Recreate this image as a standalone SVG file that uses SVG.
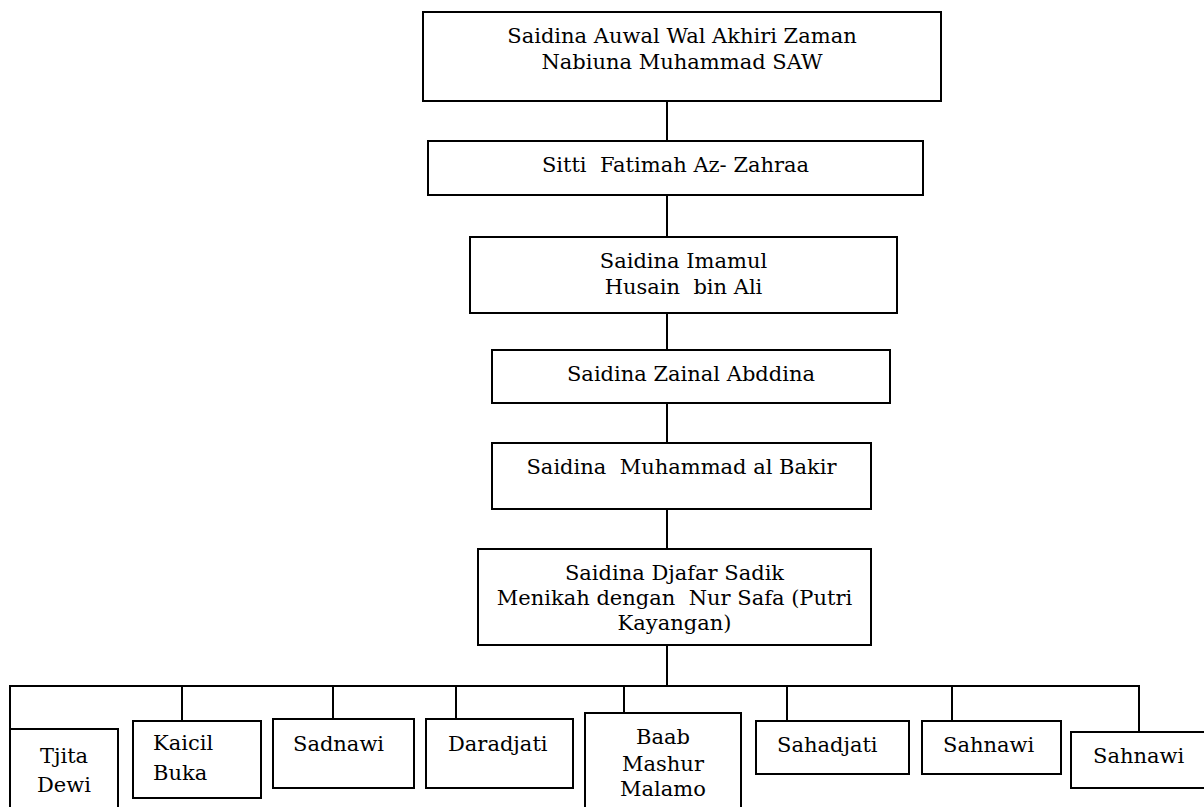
<svg xmlns="http://www.w3.org/2000/svg" width="1204" height="807" viewBox="0 0 1204 807">
<style>
.box{fill:#fff;stroke:#000;stroke-width:2}
.ln{stroke:#000;stroke-width:2;fill:none}
text{font-family:"DejaVu Serif","Liberation Serif",serif;font-size:21px;fill:#000}
.c{text-anchor:middle}
</style>
<rect width="1204" height="807" fill="#fff"/>
<g id="connectors">
<line class="ln" x1="667" y1="101" x2="667" y2="141"/>
<line class="ln" x1="667" y1="195" x2="667" y2="237"/>
<line class="ln" x1="667" y1="313" x2="667" y2="350"/>
<line class="ln" x1="667" y1="403" x2="667" y2="443"/>
<line class="ln" x1="667" y1="509" x2="667" y2="549"/>
<line class="ln" x1="667" y1="645" x2="667" y2="686"/>
<polyline class="ln" points="10,729 10,686 1139,686 1139,732"/>
<line class="ln" x1="182" y1="686" x2="182" y2="721"/>
<line class="ln" x1="333" y1="686" x2="333" y2="719"/>
<line class="ln" x1="456" y1="686" x2="456" y2="719"/>
<line class="ln" x1="624" y1="686" x2="624" y2="713"/>
<line class="ln" x1="787" y1="686" x2="787" y2="721"/>
<line class="ln" x1="952" y1="686" x2="952" y2="721"/>
</g>
<g id="n1"><rect class="box" x="423" y="12" width="518" height="89"/>
<text class="c" x="682" y="43">Saidina Auwal Wal Akhiri Zaman</text>
<text class="c" x="682" y="69">Nabiuna Muhammad SAW</text></g>
<g id="n2"><rect class="box" x="428" y="141" width="495" height="54"/>
<text class="c" x="675.5" y="172" xml:space="preserve">Sitti  Fatimah Az- Zahraa</text></g>
<g id="n3"><rect class="box" x="470" y="237" width="427" height="76"/>
<text class="c" x="683.5" y="268">Saidina Imamul</text>
<text class="c" x="683.5" y="294" xml:space="preserve">Husain  bin Ali</text></g>
<g id="n4"><rect class="box" x="492" y="350" width="398" height="53"/>
<text class="c" x="691" y="381">Saidina Zainal Abddina</text></g>
<g id="n5"><rect class="box" x="492" y="443" width="379" height="66"/>
<text class="c" x="681.5" y="474" xml:space="preserve">Saidina  Muhammad al Bakir</text></g>
<g id="n6"><rect class="box" x="478" y="549" width="393" height="96"/>
<text class="c" x="674.5" y="580">Saidina Djafar Sadik</text>
<text class="c" x="674.5" y="605" xml:space="preserve">Menikah dengan  Nur Safa (Putri</text>
<text class="c" x="674.5" y="630">Kayangan)</text></g>
<g id="c1"><rect class="box" x="10" y="729" width="108" height="90"/>
<text class="c" x="64" y="763">Tjita</text>
<text class="c" x="64" y="792">Dewi</text></g>
<g id="c2"><rect class="box" x="133" y="721" width="128" height="77"/>
<text x="153" y="750">Kaicil</text>
<text x="153" y="780">Buka</text></g>
<g id="c3"><rect class="box" x="273" y="719" width="141" height="69"/>
<text x="293" y="751">Sadnawi</text></g>
<g id="c4"><rect class="box" x="426" y="719" width="147" height="69"/>
<text x="448" y="751">Daradjati</text></g>
<g id="c5"><rect class="box" x="585" y="713" width="156" height="110"/>
<text class="c" x="663" y="744">Baab</text>
<text class="c" x="663" y="771">Mashur</text>
<text class="c" x="663" y="796">Malamo</text></g>
<g id="c6"><rect class="box" x="756" y="721" width="153" height="53"/>
<text x="777" y="752">Sahadjati</text></g>
<g id="c7"><rect class="box" x="922" y="721" width="139" height="53"/>
<text x="943" y="752">Sahnawi</text></g>
<g id="c8"><rect class="box" x="1071" y="732" width="140" height="56"/>
<text x="1093" y="763">Sahnawi</text></g>
</svg>
